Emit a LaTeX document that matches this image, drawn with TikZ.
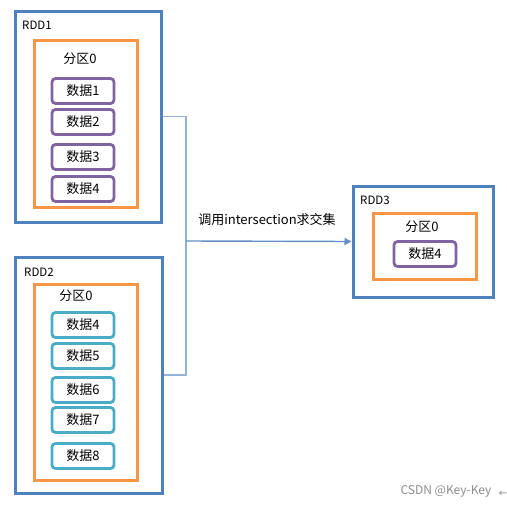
\documentclass[tikz,border=0pt]{standalone}
\usepackage{fontspec}
\setmainfont{Noto Sans CJK SC}
\newfontfamily\symfont{DejaVu Sans}
\usepackage{tikz}
\usetikzlibrary{positioning, arrows.meta}

\definecolor{rddblue}{HTML}{4F81BD}
\definecolor{partorange}{HTML}{F79646}
\definecolor{datapurple}{HTML}{8064A2}
\definecolor{datateal}{HTML}{4BACC6}
\definecolor{linkblue}{HTML}{95B3D7}

\begin{document}
\begin{tikzpicture}[x=1pt, y=-1pt,
    rdd/.style={draw=rddblue, line width=3pt, inner sep=0pt},
    part/.style={draw=partorange, line width=3pt, inner sep=0pt},
    datum/.style={draw=#1, line width=2.8pt, rounded corners=3.5pt,
        minimum width=62pt, minimum height=25pt, inner sep=0pt, font=\fontsize{13}{15}\selectfont},
    title/.style={anchor=west, inner sep=0pt, font=\fontsize{11.5}{13}\selectfont},
    caption/.style={inner sep=0pt, font=\fontsize{13}{15}\selectfont},
    link/.style={draw=linkblue, line width=1.4pt}]
    \useasboundingbox (0,0) rectangle (507,506);
    % RDD1
    \node[rdd, minimum width=146pt, minimum height=211pt] (rdd1) at (88,116.5) {};
    \node[title] (rdd1lab) at (22,25) {RDD1};
    \node[part, minimum width=103pt, minimum height=167pt] (p1) at (85.5,123.5) {};
    \node[caption] (p1lab) at (80,59) {分区0};
    \foreach \n/\y in {1/91, 2/122, 3/157, 4/189} {
            \node[datum=datapurple] (a\n) at (83,\y) {数据\n};
        };
    % RDD2
    \node[rdd, minimum width=147pt, minimum height=236pt] (rdd2) at (88.5,375) {};
    \node[title] (rdd2lab) at (24,272) {RDD2};
    \node[part, minimum width=103pt, minimum height=196pt] (p2) at (85.5,382) {};
    \node[caption] (p2lab) at (76,296) {分区0};
    \foreach \n/\y in {4/325, 5/356, 6/390, 7/420, 8/456} {
            \node[datum=datateal] (b\n) at (83,\y) {数据\n};
        };
    % RDD3
    \node[rdd, minimum width=140pt, minimum height=111pt] (rdd3) at (423,241.5) {};
    \node[title] (rdd3lab) at (360,200) {RDD3};
    \node[part, minimum width=103pt, minimum height=66pt] (p3) at (424.5,246) {};
    \node[caption] (p3lab) at (422,227) {分区0};
    \node[datum=datapurple] (c4) at (425,254) {数据4};
    % connectors
    \coordinate (join) at (186,241);
    \draw[link] (rdd1.east) -| (join) |- (rdd2.east);
    \draw[link, draw=rddblue!70!linkblue, -{Triangle[length=7pt, width=7pt]}] (join) -- (rdd3.west);
    \node[caption] (oplab) at (267,220) {调用intersection求交集};
    % watermark
    \node[inner sep=0pt, text=black!45, font=\fontsize{12}{14}\selectfont] (mark) at (446,491) {CSDN @Key-Key};
    \node[inner sep=0pt, text=black!45, font=\symfont\fontsize{10}{12}\selectfont] (markarrow) at (503,494) {←};
\end{tikzpicture}
\end{document}
